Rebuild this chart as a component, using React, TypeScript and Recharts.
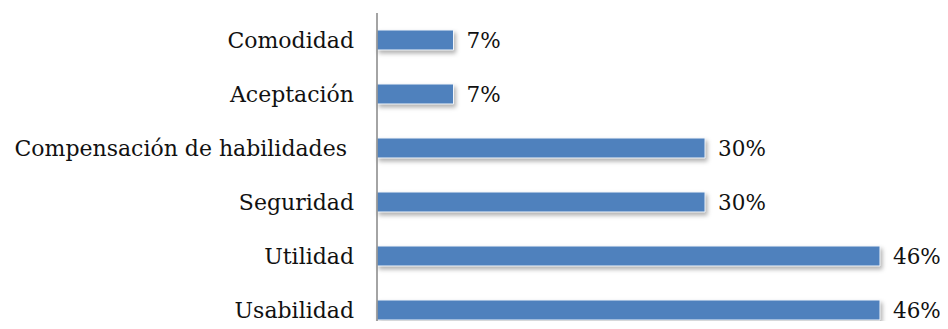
import { BarChart, Bar, XAxis, YAxis, LabelList } from 'recharts';

const CATEGORIES = [
  'Comodidad',
  'Aceptación',
  'Compensación de habilidades ',
  'Seguridad',
  'Utilidad',
  'Usabilidad',
];
const VALUES = [7, 7, 30, 30, 46, 46];

const data = CATEGORIES.map((name, i) => ({ name, value: VALUES[i] }));

const FONT = '"DejaVu Serif", "Liberation Serif", serif';

export default function App() {
  return (
    <div style={{ margin: -8, width: 948, height: 329, overflow: 'hidden', background: '#fff' }}>
      <BarChart
        width={948}
        height={337}
        data={data}
        layout="vertical"
        margin={{ top: 13, right: 68, bottom: 0, left: 0 }}
        barCategoryGap={17}
      >
        <XAxis type="number" domain={[0, 46]} hide />
        <YAxis
          type="category"
          dataKey="name"
          width={377}
          tickLine={false}
          tickSize={0}
          tickMargin={23}
          axisLine={{ stroke: '#868686', strokeWidth: 1.5 }}
          tick={{ fill: '#111', fontSize: 22, fontFamily: FONT, style: { whiteSpace: 'pre' } }}
          interval={0}
        />
        <Bar
          dataKey="value"
          fill="#4F81BD"
          stroke="#f4f7fb"
          strokeWidth={1}
          barSize={20}
          isAnimationActive={false}
          style={{ filter: 'drop-shadow(2px 3px 2px rgba(0,0,0,0.3))' }}
        >
          <LabelList
            dataKey="value"
            position="right"
            offset={13}
            formatter={(v: number) => `${v}%`}
            style={{ fill: '#111', fontSize: 21.5, fontFamily: FONT }}
          />
        </Bar>
      </BarChart>
    </div>
  );
}
